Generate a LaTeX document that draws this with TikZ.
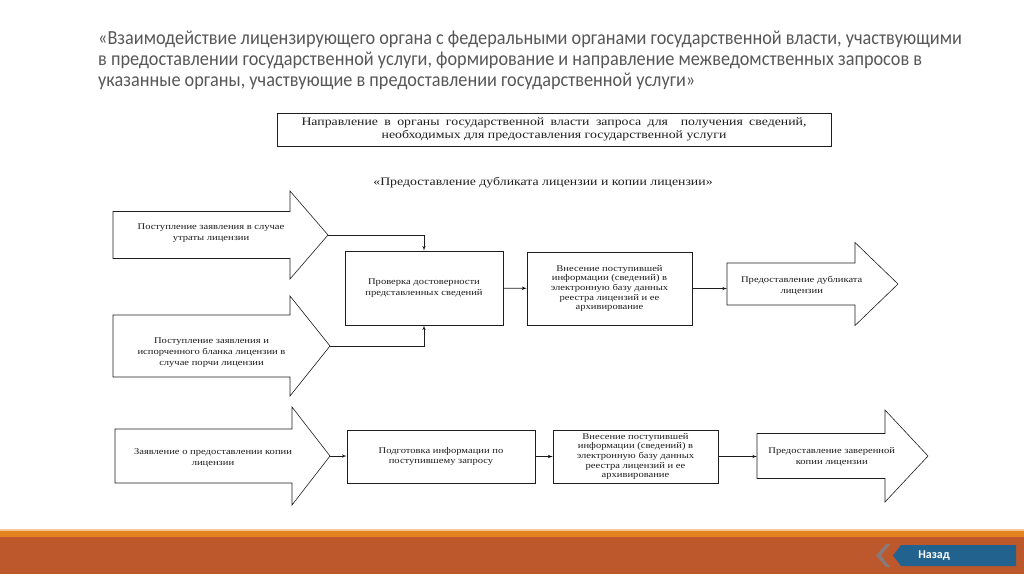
\documentclass[tikz,border=0pt]{standalone}
\usepackage{fontspec}
\setmainfont{Liberation Serif}
\newfontfamily\scanfont[FakeStretch=1.2]{Liberation Serif}
\newfontfamily\titlefont[FakeStretch=0.912]{Carlito}
\newfontfamily\btnfont{Carlito}
\usetikzlibrary{shapes,arrows}
\definecolor{inkgray}{HTML}{1E1E1E}
\definecolor{titlegray}{HTML}{575757}
\definecolor{footbrown}{HTML}{BC582C}
\definecolor{footorange}{HTML}{E3821F}
\definecolor{btnblue}{HTML}{21628F}
\tikzstyle{block} = [rectangle, draw=inkgray, semithick, text=inkgray, align=center,
    inner sep=2pt, font=\scanfont\fontsize{8.8}{10.5}\selectfont]
\tikzstyle{arrowbody} = [draw=inkgray, semithick, fill=white]
\tikzstyle{arrowtext} = [text=inkgray, align=center, inner sep=0pt,
    font=\scanfont\fontsize{8.8}{11}\selectfont]
\tikzstyle{line} = [draw=inkgray, semithick, -latex']
% big hollow arrow: name, x tail, y middle, x head base, x tip, body half, head half, y text, text
\newcommand{\fatarrow}[9]{%
  \draw [arrowbody] (#2,#3-#6) -- (#4,#3-#6) -- (#4,#3-#7) -- (#5,#3)
    -- (#4,#3+#7) -- (#4,#3+#6) -- (#2,#3+#6) -- cycle;
  \coordinate (#1 tail) at (#2,#3);
  \coordinate (#1 tip) at (#5,#3);
  \node [arrowtext] (#1) at ({(#2+(#4+#5)/2)/2},#8) {#9};}

\begin{document}
\begin{tikzpicture}[x=1pt, y=-1pt]
	\useasboundingbox (0,0) rectangle (1024,574);
	% title
	\node [anchor=north west, inner sep=0pt, align=left, text=titlegray,
		font=\titlefont\fontsize{20}{21}\selectfont] (title) at (98,31)
		{«Взаимодействие лицензирующего органа с федеральными органами государственной власти, участвующими\\
		в предоставлении государственной услуги, формирование и направление межведомственных запросов в\\
		указанные органы, участвующие в предоставлении государственной услуги»};
	
	\node [block, minimum width=554pt, minimum height=33pt, font=\scanfont\fontsize{11.5}{13}\selectfont] (req) at (554,129.5)
		{\makebox[505pt][s]{Направление в органы государственной власти запроса для \ получения сведений,}\\
		необходимых для предоставления государственной услуги};
	\node [text=inkgray, font=\scanfont\fontsize{11.5}{13}\selectfont] (sub) at (543,183)
		{«Предоставление дубликата лицензии и копии лицензии»};
	
	% duplicate
	\fatarrow{loss}{113}{235}{290}{328}{23.5}{44}{233}{Поступление заявления в случае\\утраты лицензии}
	\fatarrow{damage}{113}{346}{290}{330}{31}{50}{353}{Поступление заявления и\\испорченного бланка лицензии в\\случае порчи лицензии}
	\node [block, minimum width=158pt, minimum height=74pt] (check) at (424,288)
		{Проверка достоверности\\представленных сведений};
	\node [block, minimum width=165pt, minimum height=73pt, font=\scanfont\fontsize{8.8}{9.7}\selectfont] (reg) at (609.5,288.5)
		{Внесение поступившей\\информации (сведений) в\\электронную базу данных\\реестра лицензий и ее\\архивирование};
	\fatarrow{dup}{727}{284}{855}{898}{21}{41.5}{286}{Предоставление дубликата\\лицензии}
	
	% copy
	\fatarrow{ask}{115}{456}{292}{330}{27}{49}{458}{Заявление о предоставлении копии\\лицензии}
	\node [block, minimum width=188pt, minimum height=53pt] (prep) at (441,456.5)
		{Подготовка информации по\\поступившему запросу};
	\node [block, minimum width=165pt, minimum height=53pt, font=\scanfont\fontsize{8.8}{9.7}\selectfont] (reg2) at (635.5,456.5)
		{Внесение поступившей\\информации (сведений) в\\электронную базу данных\\реестра лицензий и ее\\архивирование};
	\fatarrow{copy}{757}{456}{885}{928}{22.5}{46}{457}{Предоставление заверенной\\копии лицензии}
	
	\path [line] (loss tip) -| (check.north);
	\path [line] (damage tip) -| (check.south);
	\path [line] (check) edge node {} (reg);
	\path [line] (reg.east) -- (reg.east -| dup tail);
	\path [line] (ask tip) -- (ask tip -| prep.west);
	\path [line] (prep) edge node {} (reg2);
	\path [line] (reg2.east) -- (reg2.east -| copy tail);
	
	% footer
	\fill [footorange!45] (0,529) rectangle (1024,531);
	\fill [footorange] (0,531) rectangle (1024,537);
	\fill [footbrown] (0,537) rectangle (1024,574);
	\fill [btnblue!70!white, opacity=0.6] (886,544) -- (876,555.5) -- (886,567) -- (890,567) -- (881,555.5) -- (890,544) -- cycle;
	\fill [btnblue] (901,545) -- (1016,545) -- (1016,566) -- (901,566) -- (893,555.5) -- cycle;
	\node [text=white, font=\btnfont\bfseries\fontsize{12}{14}\selectfont] (back) at (934,555.5) {Назад};
\end{tikzpicture}
\end{document}
